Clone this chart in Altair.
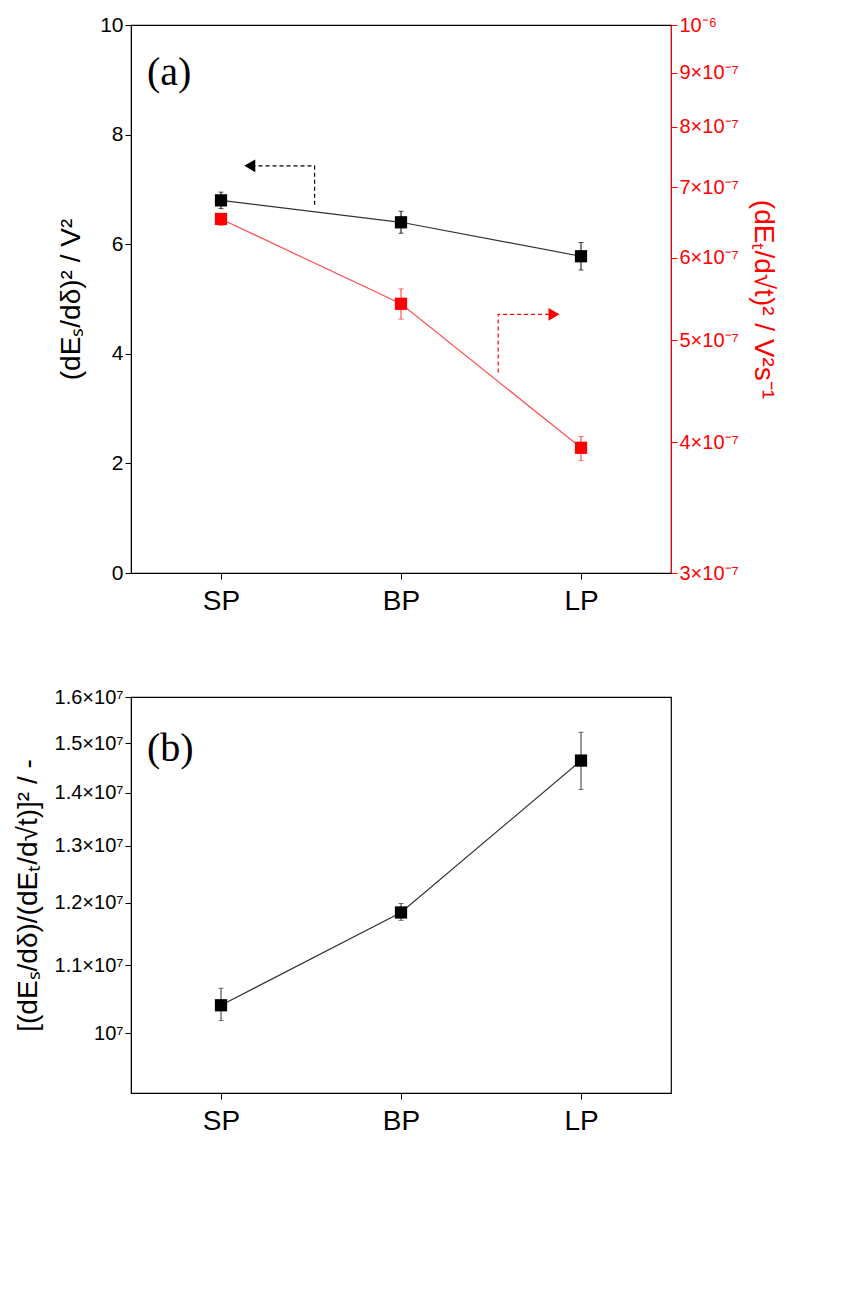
import altair as alt
import pandas as pd

cats = ["SP", "BP", "LP"]
idx = [0, 1, 2]

es_val = [6.80, 6.40, 5.78]
es_lo = [6.65, 6.20, 5.53]
es_hi = [6.95, 6.60, 6.03]

et_val = [6.53e-7, 5.42e-7, 3.95e-7]
et_lo = [6.44e-7, 5.24e-7, 3.84e-7]
et_hi = [6.61e-7, 5.60e-7, 4.05e-7]

r_val = [1.040e7, 1.184e7, 1.464e7]
r_lo = [1.018e7, 1.171e7, 1.406e7]
r_hi = [1.065e7, 1.199e7, 1.523e7]

# annotation arrows (x in category index units, y in left-axis units)
blk_arrow_x = [0.52, 0.52, 0.16]
blk_arrow_y = [6.72, 7.43, 7.43]
red_arrow_x = [1.54, 1.54, 1.85]
red_arrow_y = [3.66, 4.72, 4.72]

FONT = "Liberation Sans"
RED = "#ff0000"

dfa = pd.DataFrame({"i": idx, "cat": cats, "v": es_val, "lo": es_lo, "hi": es_hi})
dft = pd.DataFrame({"i": idx, "cat": cats, "v": et_val, "lo": et_lo, "hi": et_hi})
dfr = pd.DataFrame({"i": idx, "cat": cats, "v": r_val, "lo": r_lo, "hi": r_hi})
dba = pd.DataFrame({"x": blk_arrow_x, "y": blk_arrow_y, "o": [0, 1, 2]})
dra = pd.DataFrame({"x": red_arrow_x, "y": red_arrow_y, "o": [0, 1, 2]})

xlab = "datum.value == 0 ? 'SP' : datum.value == 1 ? 'BP' : datum.value == 2 ? 'LP' : ''"
xax = alt.Axis(values=[0, 1, 2], labelExpr=xlab, title=None, grid=False, labelFontSize=28,
               labelFont=FONT, labelColor="black", domainColor="black", tickColor="black",
               labelPadding=8, tickSize=6)
xs = alt.Scale(domain=[-0.5, 2.5], nice=False)
xenc = alt.X("i:Q", scale=xs, axis=xax)

W, HA, HB = 540, 548, 396

# ---------- panel (a) left ----------
ly = alt.Scale(domain=[0, 10], nice=False)
lax = alt.Axis(title="(dEₛ/dδ)² / V²", titleFontSize=28, titleFont=FONT, titleFontWeight="normal",
               labelFontSize=21, labelFont=FONT, values=[0, 2, 4, 6, 8, 10], grid=False,
               domainColor="black", tickColor="black", labelColor="black", titleColor="black",
               titlePadding=14, tickSize=6)
ya = lambda f: alt.Y(f, scale=ly, axis=lax)
base_l = alt.Chart(dfa)
l_line = base_l.mark_line(color="#333333", strokeWidth=1.2).encode(x=xenc, y=ya("v:Q"))
l_err = base_l.mark_errorbar(ticks=True, color="black").encode(x=xenc, y=ya("lo:Q"), y2="hi:Q")
l_pts = base_l.mark_square(size=150, color="black", opacity=1).encode(x=xenc, y=ya("v:Q"))
ba_line = alt.Chart(dba).mark_line(color="black", strokeDash=[4, 3], strokeWidth=1.2).encode(
    x=alt.X("x:Q", scale=xs, axis=xax), y=ya("y:Q"), order="o:Q")
ba_head = alt.Chart(dba.iloc[[2]]).mark_point(shape="triangle-left", filled=True, size=160, color="black", opacity=1).encode(
    x=alt.X("x:Q", scale=xs, axis=xax), y=ya("y:Q"))
ra_line = alt.Chart(dra).mark_line(color=RED, strokeDash=[4, 3], strokeWidth=1.2).encode(
    x=alt.X("x:Q", scale=xs, axis=xax), y=ya("y:Q"), order="o:Q")
ra_head = alt.Chart(dra.iloc[[2]]).mark_point(shape="triangle-right", filled=True, size=160, color=RED, opacity=1).encode(
    x=alt.X("x:Q", scale=xs, axis=xax), y=ya("y:Q"))
lab_a = alt.Chart(pd.DataFrame({"t": ["(a)"]})).mark_text(font="Liberation Serif", fontSize=40, align="left", baseline="middle").encode(
    text="t:N", x=alt.value(16), y=alt.value(48))
left = alt.layer(l_line, ra_line, ba_line, l_err, l_pts, ba_head, ra_head, lab_a)

# ---------- panel (a) right ----------
ry = alt.Scale(type="log", domain=[3e-7, 1e-6], nice=False)
rlab = "round(datum.value*1e7) >= 10 ? '10⁻⁶' : round(datum.value*1e7) + '×10⁻⁷'"
rax = alt.Axis(orient="right", title="(dEₜ/d√t)² / V²s⁻¹", titleFontSize=28, titleFont=FONT,
               titleFontWeight="normal", titleColor=RED, labelColor=RED, domainColor=RED, tickColor=RED,
               labelFontSize=20, labelFont=FONT, values=[3e-7, 4e-7, 5e-7, 6e-7, 7e-7, 8e-7, 9e-7, 1e-6],
               labelExpr=rlab, grid=False, titlePadding=10, tickSize=6)
yr = lambda f: alt.Y(f, scale=ry, axis=rax)
base_r = alt.Chart(dft)
r_line = base_r.mark_line(color="#ff5050", strokeWidth=1.2).encode(x=xenc, y=yr("v:Q"))
r_err = base_r.mark_errorbar(ticks=True, color="#ff3030").encode(x=xenc, y=yr("lo:Q"), y2="hi:Q")
r_pts = base_r.mark_square(size=150, color=RED, opacity=1).encode(x=xenc, y=yr("v:Q"))
right = alt.layer(r_line, r_err, r_pts)

panel_a = alt.layer(left, right).resolve_scale(y="independent").properties(width=W, height=HA)

# ---------- panel (b) ----------
by = alt.Scale(type="log", domain=[9.2e6, 1.6e7], nice=False)
blab = "datum.value < 1.05e7 ? '10⁷' : format(datum.value/1e7, '.1f') + '×10⁷'"
bax = alt.Axis(title="[(dEₛ/dδ)/(dEₜ/d√t)]² / -", titleFontSize=28, titleFont=FONT, titleFontWeight="normal",
               labelFontSize=20, labelFont=FONT, values=[1e7, 1.1e7, 1.2e7, 1.3e7, 1.4e7, 1.5e7, 1.6e7],
               labelExpr=blab, grid=False, domainColor="black", tickColor="black", labelColor="black",
               titleColor="black", titlePadding=12, tickSize=6)
yb = lambda f: alt.Y(f, scale=by, axis=bax)
base_b = alt.Chart(dfr)
b_line = base_b.mark_line(color="#333333", strokeWidth=1.2).encode(x=xenc, y=yb("v:Q"))
b_err = base_b.mark_errorbar(ticks=True, color="#333333").encode(x=xenc, y=yb("lo:Q"), y2="hi:Q")
b_pts = base_b.mark_square(size=150, color="black", opacity=1).encode(x=xenc, y=yb("v:Q"))
lab_b = alt.Chart(pd.DataFrame({"t": ["(b)"]})).mark_text(font="Liberation Serif", fontSize=40, align="left", baseline="middle").encode(
    text="t:N", x=alt.value(16), y=alt.value(52))
panel_b = alt.layer(b_line, b_err, b_pts, lab_b).properties(width=W, height=HB)

chart = alt.vconcat(panel_a, panel_b, spacing=70).configure(background="white").configure_view(
    stroke="black", strokeWidth=1.2)
chart.save("out.html", embed_options={"renderer": "svg", "actions": False})
